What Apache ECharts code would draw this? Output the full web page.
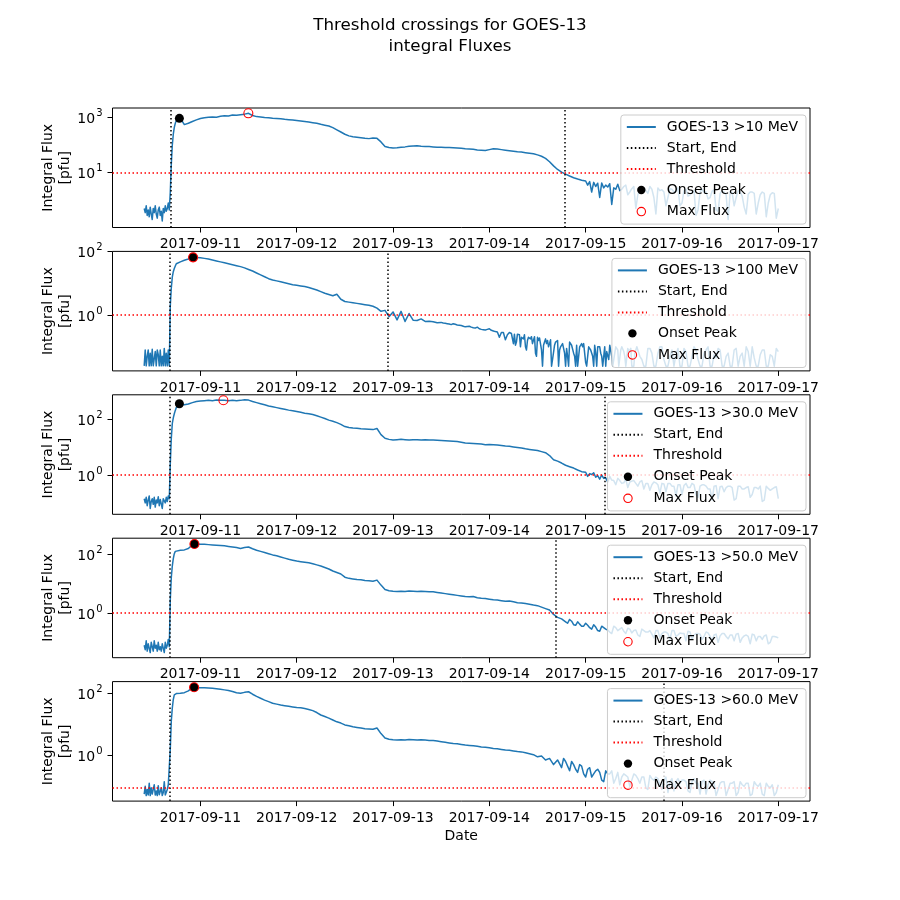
<!DOCTYPE html>
<html>
<head>
<meta charset="utf-8">
<script src="https://cdn.jsdelivr.net/npm/echarts@6/dist/echarts.min.js"></script>
<style>html,body{margin:0;padding:0;background:#fff}#c{width:900px;height:900px}</style>
</head>
<body>
<div id="c"></div>
<script>
// ---------------- DATA (log10 of integral flux, pfu) ----------------
// pre-event arrays: 15-min steps starting 2017-09-10 10:00 UTC (32 values)
// main arrays: hourly steps starting 2017-09-10 18:00 UTC (151 values, to 2017-09-17 00:00)
// half arrays: extra readings at half past each hour, from halfStarts[i] to 2017-09-16 23:30
// quarter100: extra >100 MeV readings at :15 and :45, 2017-09-14 06:15 to 2017-09-15 12:45
const seriesNames = ['GOES-13 >10 MeV', 'GOES-13 >100 MeV', 'GOES-13 >30.0 MeV', 'GOES-13 >50.0 MeV', 'GOES-13 >60.0 MeV'];
const dayTicks = ['2017-09-11','2017-09-12','2017-09-13','2017-09-14','2017-09-15','2017-09-16','2017-09-17'];

const pre10 = [-0.3,-0.45,-0.2,-0.55,-0.35,-0.6,-0.25,-0.5,-0.7,-0.3,-0.45,-0.2,-0.5,-0.65,-0.35,-0.25,-0.55,-0.4,-0.75,-0.3,-0.45,-0.2,-0.4,-0.3,-0.1,-0.35,
  0.3,1.3,2.0,2.4,2.65,2.8];
const main10 = [2.9,2.98,2.75,2.8,2.86,2.92,2.97,
  3.0,3.02,3.03,3.02,3.05,3.07,3.06,3.1,3.09,3.11,3.13,3.16,
  3.08,3.04,3.03,3.01,3.0,2.98,2.97,2.96,2.94,2.93,2.92,2.9,
  2.88,2.86,2.84,2.82,2.8,2.76,2.73,2.7,2.64,2.56,2.48,2.4,
  2.34,2.31,2.29,2.27,2.25,2.24,2.26,2.25,2.12,1.95,1.92,1.9,
  1.91,1.93,1.94,1.96,1.97,1.98,1.96,1.95,1.95,1.94,1.93,1.93,
  1.92,1.92,1.91,1.9,1.89,1.87,1.86,1.85,1.83,1.82,1.81,1.84,
  1.87,1.86,1.84,1.82,1.8,1.78,1.76,1.75,1.73,1.71,1.69,1.65,
  1.6,1.52,1.4,1.25,1.12,1.02,0.95,0.88,0.82,0.77,0.73,0.7,
  0.68,0.65,0.62,0.63,0.55,0.6,0.45,0.58,0.4,0.55,0.3,0.5,
  0.2,0.48,0.35,0.5,0.1,0.45,0.38,-0.2,0.42,0.3,0.45,-0.1,
  0.4,0.2,0.35,-0.35,0.4,0.3,0.1,0.38,-0.4,0.35,0.2,0.3,
  -0.2,0.35,0.15,-0.5,0.3,0.25,-0.1,0.3,-0.6,0.2,0.25,-0.3];
const half10 = [0.55,0.3,0.5,0.1,0.45,0.48,-0.15,0.4,0.35,0.5,0.2,0.42,
  -0.3,0.38,0.45,0.25,0.4,-0.5,0.35,0.3,0.1,0.4,0.32,-0.2,
  0.35,0.15,0.3,-0.55,0.3,0.28,0.05,0.33,-0.35,0.25,0.3,-0.7,
  0.28,0.1,0.3,-0.25,0.22,0.3,-0.5,0.2,0.25,-0.1,0.27,-0.65];

const pre100 = [-1.6,-1.1,-1.6,-1.3,-1.1,-1.6,-1.2,-1.6,-1.08,-1.6,-1.6,-1.15,-1.6,-1.1,-1.25,-1.6,-1.1,-1.6,-1.3,-1.6,-1.05,-1.6,-1.2,-1.6,-1.1,-1.6,
  0.3,0.85,1.2,1.37,1.47,1.55];
const main100 = [1.62,1.68,1.73,1.77,1.82,1.82,1.81,
  1.79,1.77,1.74,1.71,1.68,1.65,1.62,1.59,1.56,1.53,1.49,1.44,
  1.39,1.33,1.27,1.21,1.15,1.11,1.08,1.05,1.02,0.99,0.96,0.94,
  0.92,0.9,0.87,0.83,0.79,0.74,0.69,0.65,0.61,0.66,0.5,0.43,
  0.41,0.39,0.37,0.35,0.33,0.31,0.28,0.22,0.12,0.15,-0.05,0.1,
  -0.15,0.12,-0.2,0.05,-0.16,-0.17,-0.12,-0.2,-0.19,-0.21,-0.24,-0.23,
  -0.26,-0.28,-0.27,-0.31,-0.33,-0.37,-0.35,-0.4,-0.38,-0.45,-0.47,-0.43,
  -0.5,-0.53,-0.55,-0.78,-0.55,-0.9,-0.6,-0.7,-1.0,-0.65,-0.85,-0.7,
  -1.1,-0.75,-0.9,-1.4,-0.8,-1.0,-1.61,-0.85,-1.2,-1.61,-0.9,-1.5,
  -0.95,-1.61,-1.0,-1.3,-1.61,-0.95,-1.61,-1.1,-1.0,-1.61,-1.2,-1.61,
  -1.0,-1.4,-1.61,-1.05,-1.61,-1.2,-1.0,-1.61,-1.3,-1.61,-1.05,-1.61,
  -1.15,-1.61,-1.0,-1.4,-1.61,-1.1,-1.61,-1.25,-1.05,-1.61,-1.3,-1.61,
  -1.1,-1.61,-1.2,-1.0,-1.61,-1.35,-1.61,-1.1,-1.61,-1.25,-1.61,-1.15];
const half100 = [-0.25,-0.27,-0.3,-0.29,-0.32,-0.35,-0.36,-0.38,-0.41,-0.43,-0.46,-0.45,
  -0.48,-0.52,-0.7,-0.55,-0.62,-0.58,-0.95,-0.62,-0.75,-0.8,-0.68,-1.2,
  -0.72,-0.95,-0.8,-1.61,-0.85,-1.1,-0.9,-1.3,-0.95,-1.61,-1.0,-0.9,
  -1.61,-1.05,-1.2,-1.0,-1.61,-1.1,-1.3,-1.0,-1.61,-1.15,-1.05,-1.61,
  -1.1,-1.3,-1.61,-1.05,-1.2,-1.61,-1.0,-1.4,-1.61,-1.1,-1.25,-1.61,
  -1.05,-1.61,-1.3,-1.1,-1.61,-1.2,-1.0,-1.61,-1.35,-1.1,-1.61,-1.2,
  -1.61,-1.05,-1.3,-1.61,-1.15,-1.0,-1.61,-1.25,-1.1,-1.61,-1.3,-1.05];
const quarter100 = [-0.6,-0.85,-0.65,-1.0,-0.7,-0.62,-1.1,-0.7,-0.75,-0.9,-0.68,-1.3,
  -0.8,-0.72,-1.61,-0.85,-0.9,-1.0,-0.78,-1.4,-0.95,-0.85,-1.61,-1.0,
  -0.9,-1.2,-1.05,-1.61,-0.9,-1.0,-1.3,-0.95,-1.61,-1.05,-1.0,-1.2,
  -1.61,-1.0,-1.1,-1.3,-0.95,-1.61,-1.05,-1.2,-1.61,-1.0,-1.15,-1.4,
  -1.0,-1.61,-1.2,-1.05,-1.61,-1.1,-1.0,-1.3,-1.61,-1.15,-1.05,-1.61,
  -1.2,-1.0];

const pre30 = [-0.85,-1.0,-0.8,-1.1,-0.9,-0.75,-1.2,-0.95,-0.85,-1.05,-0.8,-1.15,-0.9,-1.0,-0.78,-1.1,-0.88,-0.95,-1.2,-0.85,-0.9,-1.0,-0.8,-0.95,-0.75,-0.85,
  0.4,1.3,1.85,2.05,2.2,2.32];
const main30 = [2.42,2.56,2.52,2.55,2.6,2.64,2.66,
  2.67,2.68,2.67,2.69,2.68,2.68,2.67,2.68,2.67,2.68,2.7,2.69,
  2.64,2.6,2.56,2.52,2.48,2.45,2.42,2.39,2.36,2.33,2.31,2.28,
  2.25,2.22,2.2,2.17,2.13,2.08,2.03,1.97,1.93,1.88,1.82,1.74,
  1.71,1.69,1.68,1.66,1.65,1.64,1.63,1.67,1.45,1.32,1.28,1.26,
  1.27,1.28,1.27,1.26,1.27,1.27,1.26,1.27,1.26,1.26,1.25,1.24,
  1.23,1.22,1.21,1.2,1.18,1.15,1.14,1.13,1.12,1.11,1.09,1.1,
  1.09,1.08,1.06,1.04,1.03,1.01,0.99,0.97,0.94,0.92,0.9,0.88,
  0.84,0.8,0.7,0.55,0.5,0.43,0.35,0.3,0.25,0.18,0.12,0.1,
  0.05,0.08,-0.02,0.0,-0.1,-0.05,-0.2,-0.12,-0.3,-0.15,-0.25,-0.2,
  -0.4,-0.2,-0.3,-0.55,-0.25,-0.35,-0.3,-0.6,-0.3,-0.4,-0.35,-0.7,
  -0.3,-0.45,-0.35,-0.8,-0.35,-0.4,-0.5,-0.4,-0.85,-0.4,-0.45,-0.4,
  -0.9,-0.4,-0.5,-0.45,-0.8,-0.45,-0.5,-0.95,-0.4,-0.55,-0.45,-0.85];
const half30 = [-0.05,0.02,-0.08,-0.15,-0.12,-0.25,-0.18,-0.35,-0.2,-0.28,-0.45,-0.22,
  -0.3,-0.25,-0.5,-0.3,-0.35,-0.28,-0.65,-0.32,-0.3,-0.4,-0.75,-0.35,
  -0.38,-0.45,-0.3,-0.7,-0.4,-0.35,-0.5,-0.9,-0.38,-0.42,-0.6,-0.4,
  -0.45,-0.85,-0.4,-0.5,-0.42,-0.7,-0.45,-0.4,-0.9,-0.48,-0.5,-0.42];

const pre50 = [-1.1,-1.25,-0.95,-1.3,-1.05,-1.2,-1.35,-1.0,-1.15,-1.3,-0.95,-1.2,-1.1,-1.3,-1.0,-1.25,-1.15,-1.3,-1.05,-1.2,-1.35,-1.0,-1.2,-1.1,-0.9,-1.15,
  0.45,1.2,1.6,1.85,2.02,2.1];
const main50 = [2.13,2.14,2.15,2.2,2.32,2.35,2.34,
  2.34,2.33,2.32,2.31,2.3,2.29,2.27,2.25,2.23,2.2,2.23,2.25,
  2.19,2.14,2.1,2.06,2.02,1.98,1.95,1.91,1.87,1.83,1.8,1.77,
  1.75,1.73,1.71,1.68,1.64,1.6,1.55,1.5,1.43,1.38,1.33,1.22,
  1.18,1.16,1.14,1.13,1.11,1.1,1.08,1.12,0.95,0.8,0.76,0.74,
  0.73,0.74,0.73,0.75,0.74,0.73,0.74,0.73,0.72,0.72,0.7,0.68,
  0.66,0.64,0.62,0.6,0.58,0.56,0.55,0.56,0.52,0.5,0.49,0.47,
  0.45,0.44,0.42,0.4,0.41,0.38,0.35,0.34,0.32,0.3,0.27,0.25,
  0.2,0.15,0.1,-0.05,-0.15,-0.2,-0.3,-0.22,-0.4,-0.3,-0.45,-0.35,
  -0.5,-0.4,-0.6,-0.45,-0.55,-0.65,-0.45,-0.6,-0.5,-0.7,-0.55,-0.6,
  -0.75,-0.55,-0.65,-0.6,-0.85,-0.6,-0.7,-0.65,-0.9,-0.6,-0.75,-0.7,
  -0.95,-0.65,-0.75,-0.7,-0.9,-0.65,-0.8,-0.75,-1.0,-0.7,-0.8,-0.75,
  -0.95,-0.7,-0.85,-0.75,-1.05,-0.75,-0.8,-0.9,-0.75,-1.0,-0.8,-0.85];
const half50 = [-0.25,-0.35,-0.28,-0.42,-0.38,-0.45,
  -0.42,-0.55,-0.48,-0.62,-0.5,-0.58,-0.7,-0.5,-0.55,-0.62,-0.52,-0.68,
  -0.58,-0.8,-0.6,-0.65,-0.72,-0.6,-0.85,-0.65,-0.7,-0.6,-0.8,-0.68,
  -0.7,-0.62,-0.9,-0.7,-0.72,-0.8,-0.68,-0.95,-0.72,-0.78,-0.7,-0.88,
  -0.75,-0.72,-1.0,-0.78,-0.8,-0.72,-0.95,-0.8,-0.78,-1.05,-0.8,-0.82];

const pre60 = [-1.25,-1.0,-1.3,-1.1,-1.28,-0.9,-1.3,-1.05,-1.25,-1.3,-0.95,-1.28,-1.15,-1.3,-0.98,-1.27,-1.3,-1.05,-1.3,-1.2,-0.85,-1.28,-1.3,-1.1,-0.95,-1.0,
  0.2,1.1,1.52,1.8,1.95,1.98];
const main60 = [1.99,2.0,2.02,2.08,2.18,2.19,2.18,
  2.18,2.17,2.16,2.15,2.13,2.11,2.09,2.06,2.02,2.0,2.03,2.05,
  1.97,1.9,1.84,1.78,1.73,1.68,1.65,1.62,1.6,1.58,1.56,1.54,
  1.53,1.51,1.48,1.44,1.38,1.3,1.25,1.2,1.14,1.08,1.04,0.98,
  0.95,0.92,0.9,0.88,0.86,0.85,0.84,0.88,0.7,0.56,0.52,0.5,
  0.49,0.5,0.49,0.51,0.5,0.49,0.5,0.49,0.48,0.48,0.46,0.44,
  0.42,0.4,0.38,0.37,0.35,0.33,0.32,0.31,0.29,0.27,0.26,0.24,
  0.22,0.21,0.19,0.17,0.16,0.14,0.12,0.11,0.08,0.05,0.02,-0.05,
  -0.02,-0.15,-0.1,-0.3,-0.15,-0.4,-0.2,-0.5,-0.3,-0.55,-0.35,-0.7,
  -0.4,-0.6,-0.45,-0.8,-0.5,-0.6,-0.9,-0.55,-0.7,-0.65,-1.0,-0.6,
  -0.75,-0.7,-1.05,-0.65,-0.8,-0.75,-1.1,-0.7,-0.85,-1.15,-0.75,-0.8,
  -0.85,-1.2,-0.75,-0.9,-0.85,-1.25,-0.8,-0.9,-1.1,-0.85,-1.3,-0.9,
  -0.85,-1.2,-0.95,-0.9,-1.3,-0.85,-1.0,-1.25,-0.9,-1.05,-1.3,-0.95];
const half60 = [-0.1,-0.35,-0.2,-0.45,-0.3,-0.6,
  -0.45,-0.7,-0.5,-0.55,-0.85,-0.6,-0.5,-0.75,-0.95,-0.6,-0.7,-0.8,
  -0.65,-0.9,-0.7,-1.1,-0.75,-0.7,-0.95,-0.8,-1.2,-0.75,-0.85,-0.9,
  -0.8,-1.15,-0.85,-0.9,-1.25,-0.8,-0.95,-0.85,-1.3,-0.9,-0.85,-1.1,
  -0.9,-1.3,-0.85,-1.0,-0.9,-1.25,-0.95,-0.9,-1.3,-1.0,-0.95,-1.2];
const halfStarts = ['2017-09-15T00:30','2017-09-13T12:30','2017-09-15T00:30','2017-09-14T18:30','2017-09-14T18:30'];

// event times (UTC) and log10 values
const startTimes = ['2017-09-10T16:35','2017-09-10T16:28','2017-09-10T16:24','2017-09-10T16:24','2017-09-10T16:16'];
const endTimes   = ['2017-09-14T18:43','2017-09-12T22:39','2017-09-15T04:45','2017-09-14T16:34','2017-09-15T19:27'];
const thresholdsLog = [1, 0, 0, 0, -1.055];
const onsetTimes = ['2017-09-10T18:46','2017-09-10T22:11','2017-09-10T18:46','2017-09-10T22:31','2017-09-10T22:26'];
const onsetLog   = [2.978, 1.823, 2.56, 2.351, 2.194];
const maxTimes   = ['2017-09-11T11:57','2017-09-10T22:11','2017-09-11T05:44','2017-09-10T22:31','2017-09-10T22:26'];
const maxLog     = [3.16, 1.823, 2.683, 2.351, 2.194];
const yRanges = [[-0.99, 3.353], [-1.76, 2.01], [-1.41, 2.88], [-1.524, 2.549], [-1.477, 2.377]];
const yTickExps = [[1, 3], [0, 2], [0, 2], [0, 2], [0, 2]];

const preArrays = [pre10, pre100, pre30, pre50, pre60];
const mainArrays = [main10, main100, main30, main50, main60];
const halfArrays = [half10, half100, half30, half50, half60];

// ---------------- BUILD ----------------
const FONT = 'DejaVu Sans';
const MIN = 60000, HOUR = 3600000;
const ts = s => Date.parse(s + ':00Z');
const PRE_T0 = ts('2017-09-10T10:00');
const MAIN_T0 = ts('2017-09-10T18:00');
const Q0 = ts('2017-09-14T06:15');
const X_MIN = ts('2017-09-10T02:06');
const X_MAX = ts('2017-09-17T07:54');
const dayValues = dayTicks.map(d => ts(d + 'T00:00'));
const pad2 = n => (n < 10 ? '0' : '') + n;
const fmtDay = v => { const d = new Date(v); return d.getUTCFullYear() + '-' + pad2(d.getUTCMonth() + 1) + '-' + pad2(d.getUTCDate()); };

const tops = [108, 251.4, 394.8, 538.2, 681.6];
const H = 119.5;
const grids = [], xAxes = [], yAxes = [], series = [], legends = [];
const dots = [1.5, 2.5];
const circlePath = 'path://M0 0M29 0M0 14M29 14M10.3 7a4.2 4.2 0 1 0 8.4 0a4.2 4.2 0 1 0 -8.4 0Z';
const hideSym = {color: 'rgba(0,0,0,0)', borderColor: 'rgba(0,0,0,0)', borderWidth: 0, opacity: 0};

for (let i = 0; i < 5; i++) {
  grids.push({left: 112.5, width: 697.5, top: tops[i], height: H, show: true, borderColor: '#000', borderWidth: 1, backgroundColor: 'transparent'});
  xAxes.push({
    type: 'value', gridIndex: i, min: X_MIN, max: X_MAX, scale: true,
    axisLine: {show: false, onZero: false}, splitLine: {show: false},
    axisTick: {show: true, length: 5, customValues: dayValues, lineStyle: {color: '#000', width: 1}},
    axisLabel: {customValues: dayValues, formatter: v => fmtDay(v), fontSize: 14, color: '#000', fontFamily: FONT, margin: 10},
    name: i === 4 ? 'Date' : '', nameLocation: 'middle', nameGap: 28, nameMoveOverlap: false,
    nameTextStyle: {fontSize: 14, color: '#000', fontFamily: FONT}
  });
  yAxes.push({
    type: 'value', gridIndex: i, min: yRanges[i][0], max: yRanges[i][1],
    axisLine: {show: false, onZero: false}, splitLine: {show: false},
    axisTick: {show: true, length: 5, customValues: yTickExps[i], lineStyle: {color: '#000', width: 1}},
    axisLabel: {
      customValues: yTickExps[i], margin: 10,
      formatter: v => '{b|10}{s|' + v + '}',
      rich: {
        b: {fontSize: 14, color: '#000', fontFamily: FONT, verticalAlign: 'bottom', padding: [4, 0, 0, 0]},
        s: {fontSize: 10, color: '#000', fontFamily: FONT, verticalAlign: 'top', padding: [0, 0, 0, 1]}
      }
    },
    name: 'Integral Flux\n[pfu]', nameLocation: 'middle', nameRotate: 90, nameGap: 39, nameMoveOverlap: false,
    nameTextStyle: {fontSize: 14, color: '#000', fontFamily: FONT, lineHeight: 17, align: 'center'}
  });

  const h0 = ts(halfStarts[i]);
  let data = preArrays[i].map((v, k) => [PRE_T0 + k * 15 * MIN, v])
    .concat(mainArrays[i].map((v, k) => [MAIN_T0 + k * HOUR, v]))
    .concat(halfArrays[i].map((v, k) => [h0 + k * HOUR, v]));
  if (i === 1) data = data.concat(quarter100.map((v, k) => [Q0 + k * 30 * MIN, v]));
  data.sort((a, b) => a[0] - b[0]);

  series.push({
    name: seriesNames[i], type: 'line', xAxisIndex: i, yAxisIndex: i, data: data,
    smooth: false, sampling: null, large: false, progressive: 0,
    symbol: 'none', showSymbol: false, lineStyle: {color: '#1f77b4', width: 1.5, join: 'round', cap: 'butt'}, itemStyle: {color: '#1f77b4'},
    animation: false, z: 2, clip: true
  });
  series.push({
    name: 'Start, End', type: 'line', xAxisIndex: i, yAxisIndex: i, data: [],
    symbol: 'none', lineStyle: {color: '#000', width: 1.5, type: dots}, itemStyle: {color: '#000'}, z: 3, animation: false,
    markLine: {silent: true, symbol: ['none', 'none'], label: {show: false}, animation: false,
      lineStyle: {color: '#000', width: 1.5, type: dots},
      data: [{xAxis: ts(startTimes[i])}, {xAxis: ts(endTimes[i])}]}
  });
  series.push({
    name: 'Threshold', type: 'line', xAxisIndex: i, yAxisIndex: i, data: [],
    symbol: 'none', lineStyle: {color: '#ff0000', width: 1.5, type: dots}, itemStyle: {color: '#ff0000'}, z: 3, animation: false,
    markLine: {silent: true, symbol: ['none', 'none'], label: {show: false}, animation: false,
      lineStyle: {color: '#ff0000', width: 1.5, type: dots},
      data: [{yAxis: thresholdsLog[i]}]}
  });
  series.push({
    name: 'Onset Peak', type: 'scatter', xAxisIndex: i, yAxisIndex: i,
    data: [[ts(onsetTimes[i]), onsetLog[i]]], symbol: 'circle', symbolSize: 9,
    itemStyle: {color: '#000', opacity: 1}, z: 5, animation: false, silent: true
  });
  series.push({
    name: 'Max Flux', type: 'scatter', xAxisIndex: i, yAxisIndex: i,
    data: [[ts(maxTimes[i]), maxLog[i]]], symbol: 'circle', symbolSize: 9,
    itemStyle: {color: 'rgba(0,0,0,0)', borderColor: '#ff0000', borderWidth: 1.1, opacity: 1}, z: 6, animation: false, silent: true
  });

  legends.push({
    orient: 'vertical', right: 94, top: tops[i] + 7, z: 10,
    itemWidth: 29, itemHeight: 14, itemGap: 7,
    padding: [5, 8, 5, 5],
    backgroundColor: 'rgba(255,255,255,0.8)', borderColor: '#cccccc', borderWidth: 1, borderRadius: 3,
    selectedMode: false,
    textStyle: {fontSize: 14, color: '#000', fontFamily: FONT, padding: [0, 0, 0, 6]},
    data: [
      {name: seriesNames[i], itemStyle: hideSym},
      {name: 'Start, End', itemStyle: hideSym},
      {name: 'Threshold', itemStyle: hideSym},
      {name: 'Onset Peak', icon: circlePath, itemStyle: {color: '#000', borderWidth: 0}},
      {name: 'Max Flux', icon: circlePath, itemStyle: {color: 'rgba(0,0,0,0)', borderColor: '#ff0000', borderWidth: 1.1}}
    ]
  });
}

const chart = echarts.init(document.getElementById('c'), null, {renderer: 'canvas'});
chart.setOption({
  animation: false,
  backgroundColor: '#fff',
  textStyle: {fontFamily: FONT},
  title: {text: 'Threshold crossings for GOES-13\nintegral Fluxes', left: 'center', top: 10.5,
    textStyle: {fontSize: 16.7, fontWeight: 'normal', color: '#000', fontFamily: FONT, lineHeight: 21}},
  grid: grids, xAxis: xAxes, yAxis: yAxes, legend: legends, series: series
});
</script>
</body>
</html>
